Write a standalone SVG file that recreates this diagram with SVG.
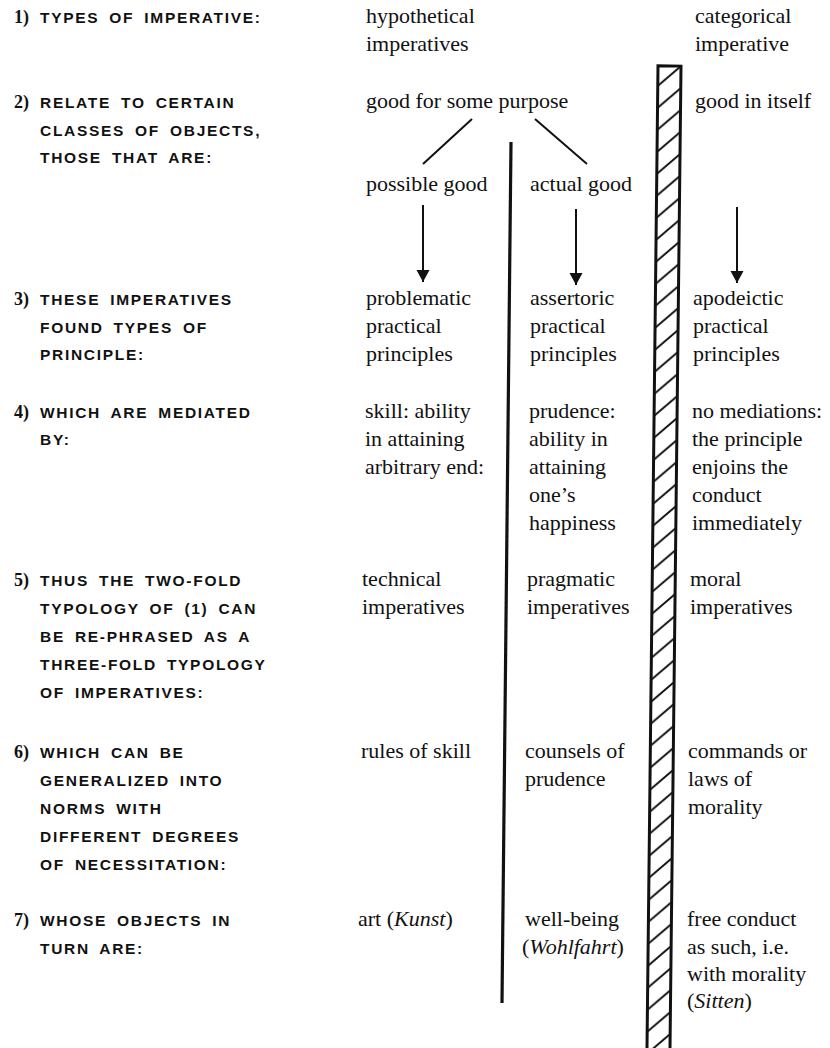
<svg xmlns="http://www.w3.org/2000/svg" width="830" height="1048" viewBox="0 0 830 1048">
<style>
.lab{font-family:"Liberation Sans",Arial,sans-serif;font-weight:bold;font-size:15.5px;letter-spacing:1.7px;word-spacing:4px;fill:#111}
.num{font-family:"Liberation Serif","Times New Roman",serif;font-weight:bold;font-size:18px;fill:#111}
.t{font-family:"Liberation Serif","Times New Roman",serif;font-size:22px;fill:#111}
.it{font-style:italic}
.ln{stroke:#111;stroke-width:2;fill:none}
.arr{stroke:#111;stroke-width:2;fill:none;marker-end:url(#ah)}
</style>
<defs>
<marker id="ah" markerUnits="userSpaceOnUse" markerWidth="14" markerHeight="14" refX="12" refY="6.5" orient="auto">
<path d="M0,0 L12,6.5 L0,13 z" fill="#111"/>
</marker>
<pattern id="hatch" patternUnits="userSpaceOnUse" x="658" y="66" width="23" height="22">
<rect width="23" height="22" fill="#fff"/>
<line x1="0" y1="20" x2="23" y2="0" stroke="#111" stroke-width="2"/>
</pattern>
</defs>
<rect width="830" height="1048" fill="#fff"/>

<g id="dividers">
<line x1="511" y1="142" x2="502" y2="1003" stroke="#111" stroke-width="3.2"/>
<g transform="rotate(0.642 669.5 66)">
<rect x="658" y="66" width="23" height="984" fill="url(#hatch)" stroke="#111" stroke-width="3"/>
</g>
</g>

<g id="connectors">
<line class="ln" x1="472" y1="119" x2="423" y2="164"/>
<line class="ln" x1="535" y1="119" x2="587" y2="164"/>
<line class="arr" x1="423" y1="205" x2="423" y2="282"/>
<line class="arr" x1="576" y1="209" x2="576" y2="285"/>
<line class="arr" x1="737" y1="207" x2="737" y2="283"/>
</g>

<g id="label-1"><text class="num" x="14" y="23">1)</text><text class="lab" x="40" y="23">TYPES OF IMPERATIVE:</text></g>
<g id="label-2"><text class="num" x="14" y="108">2)</text><text class="lab" x="40" y="108">RELATE TO CERTAIN</text><text class="lab" x="40" y="136">CLASSES OF OBJECTS,</text><text class="lab" x="40" y="163">THOSE THAT ARE:</text></g>
<g id="label-3"><text class="num" x="14" y="305">3)</text><text class="lab" x="40" y="305">THESE IMPERATIVES</text><text class="lab" x="40" y="333">FOUND TYPES OF</text><text class="lab" x="40" y="360">PRINCIPLE:</text></g>
<g id="label-4"><text class="num" x="14" y="418">4)</text><text class="lab" x="40" y="418">WHICH ARE MEDIATED</text><text class="lab" x="40" y="445">BY:</text></g>
<g id="label-5"><text class="num" x="14" y="586">5)</text><text class="lab" x="40" y="586">THUS THE TWO-FOLD</text><text class="lab" x="40" y="614">TYPOLOGY OF (1) CAN</text><text class="lab" x="40" y="642">BE RE-PHRASED AS A</text><text class="lab" x="40" y="670">THREE-FOLD TYPOLOGY</text><text class="lab" x="40" y="698">OF IMPERATIVES:</text></g>
<g id="label-6"><text class="num" x="14" y="758">6)</text><text class="lab" x="40" y="758">WHICH CAN BE</text><text class="lab" x="40" y="786">GENERALIZED INTO</text><text class="lab" x="40" y="814">NORMS WITH</text><text class="lab" x="40" y="842">DIFFERENT DEGREES</text><text class="lab" x="40" y="870">OF NECESSITATION:</text></g>
<g id="label-7"><text class="num" x="14" y="926">7)</text><text class="lab" x="40" y="926">WHOSE OBJECTS IN</text><text class="lab" x="40" y="954">TURN ARE:</text></g>

<g id="hypothetical"><text class="t" x="366" y="23">hypothetical</text><text class="t" x="366" y="51">imperatives</text></g>
<g id="categorical"><text class="t" x="695" y="23">categorical</text><text class="t" x="695" y="51">imperative</text></g>
<g id="good-purpose"><text class="t" x="366" y="108">good for some purpose</text></g>
<g id="good-itself"><text class="t" x="695" y="108">good in itself</text></g>
<g id="possible-good"><text class="t" x="366" y="191">possible good</text></g>
<g id="actual-good"><text class="t" x="530" y="191">actual good</text></g>

<g id="problematic"><text class="t" x="366" y="305">problematic</text><text class="t" x="366" y="333">practical</text><text class="t" x="366" y="361">principles</text></g>
<g id="assertoric"><text class="t" x="530" y="305">assertoric</text><text class="t" x="530" y="333">practical</text><text class="t" x="530" y="361">principles</text></g>
<g id="apodeictic"><text class="t" x="693" y="305">apodeictic</text><text class="t" x="693" y="333">practical</text><text class="t" x="693" y="361">principles</text></g>

<g id="skill"><text class="t" x="365" y="418">skill: ability</text><text class="t" x="365" y="446">in attaining</text><text class="t" x="365" y="474">arbitrary end:</text></g>
<g id="prudence"><text class="t" x="529" y="418">prudence:</text><text class="t" x="529" y="446">ability in</text><text class="t" x="529" y="474">attaining</text><text class="t" x="529" y="502">one’s</text><text class="t" x="529" y="530">happiness</text></g>
<g id="no-mediations"><text class="t" x="692" y="418">no mediations:</text><text class="t" x="692" y="446">the principle</text><text class="t" x="692" y="474">enjoins the</text><text class="t" x="692" y="502">conduct</text><text class="t" x="692" y="530">immediately</text></g>

<g id="technical"><text class="t" x="362" y="586">technical</text><text class="t" x="362" y="614">imperatives</text></g>
<g id="pragmatic"><text class="t" x="527" y="586">pragmatic</text><text class="t" x="527" y="614">imperatives</text></g>
<g id="moral"><text class="t" x="690" y="586">moral</text><text class="t" x="690" y="614">imperatives</text></g>

<g id="rules"><text class="t" x="361" y="758">rules of skill</text></g>
<g id="counsels"><text class="t" x="525" y="758">counsels of</text><text class="t" x="525" y="786">prudence</text></g>
<g id="commands"><text class="t" x="688" y="758">commands or</text><text class="t" x="688" y="786">laws of</text><text class="t" x="688" y="814">morality</text></g>

<g id="art"><text class="t" x="358" y="926">art (<tspan class="it">Kunst</tspan>)</text></g>
<g id="well-being"><text class="t" x="525" y="926">well-being</text><text class="t" x="522" y="954">(<tspan class="it">Wohlfahrt</tspan>)</text></g>
<g id="free-conduct"><text class="t" x="687" y="926">free conduct</text><text class="t" x="687" y="954">as such, i.e.</text><text class="t" x="687" y="981">with morality</text><text class="t" x="687" y="1008">(<tspan class="it">Sitten</tspan>)</text></g>
</svg>
